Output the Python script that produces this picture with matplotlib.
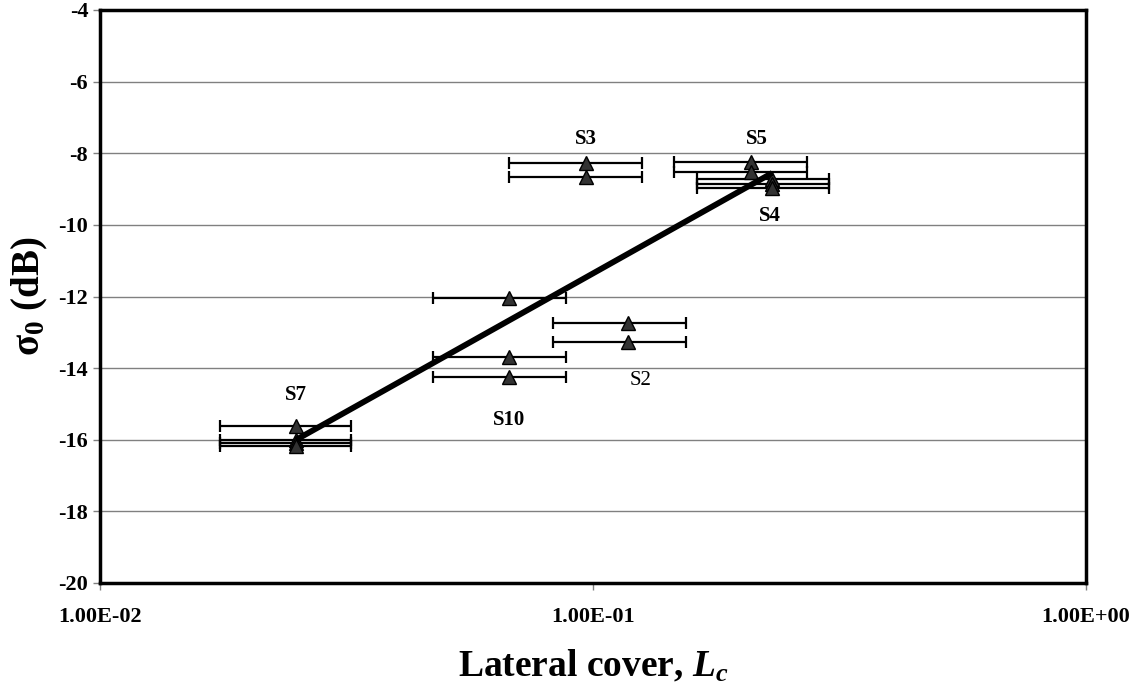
import matplotlib.pyplot as plt
import numpy as np

plt.rcParams['font.family'] = ['Liberation Serif', 'DejaVu Serif']
plt.rcParams['mathtext.fontset'] = 'custom'
plt.rcParams['mathtext.rm'] = 'Liberation Serif'
plt.rcParams['mathtext.it'] = 'Liberation Serif:italic:bold'
plt.rcParams['mathtext.bf'] = 'Liberation Serif:bold'
plt.rcParams['axes.unicode_minus'] = False

# measured points: lateral cover, error bar limits, backscatter (dB)
lc = [0.025, 0.025, 0.025, 0.025,
      0.0676, 0.0676, 0.0676,
      0.118, 0.118,
      0.0967, 0.0967,
      0.209, 0.209,
      0.231, 0.231, 0.231]
lc_low = [0.0175, 0.0175, 0.0175, 0.0175,
          0.0474, 0.0474, 0.0474,
          0.083, 0.083,
          0.0676, 0.0676,
          0.146, 0.146,
          0.1625, 0.1625, 0.1625]
lc_high = [0.0323, 0.0323, 0.0323, 0.0323,
           0.0881, 0.0881, 0.0881,
           0.1544, 0.1544,
           0.1257, 0.1257,
           0.2717, 0.2717,
           0.301, 0.301, 0.301]
sigma0 = [-15.62, -16.0, -16.1, -16.18,
          -12.04, -13.69, -14.25,
          -12.74, -13.27,
          -8.27, -8.66,
          -8.25, -8.53,
          -8.72, -8.86, -8.97]

# regression line end points
fit_lc = [0.025, 0.231]
fit_sigma0 = [-16.0, -8.55]

site_names = ['S3', 'S5', 'S4', 'S7', 'S10', 'S2']
site_lc = [0.0967, 0.215, 0.228, 0.025, 0.0676, 0.125]
site_sigma0 = [-7.6, -7.6, -9.75, -14.75, -15.45, -14.35]
site_bold = [True, True, True, True, True, False]

fig = plt.figure(figsize=(11.36, 6.88), dpi=100)
ax = fig.add_axes([100 / 1136, 1 - 583 / 688, 986 / 1136, 573 / 688])

lc_arr = np.array(lc)
xerr = [lc_arr - np.array(lc_low), np.array(lc_high) - lc_arr]
ax.errorbar(lc, sigma0, xerr=xerr, fmt='^', color='black', ecolor='black',
            elinewidth=1.6, capsize=4, capthick=1.6,
            markersize=10, markerfacecolor='#333333', markeredgecolor='black',
            zorder=3)
ax.plot(fit_lc, fit_sigma0, color='black', linewidth=4.2, zorder=4,
        solid_capstyle='butt')

for name, x, y, b in zip(site_names, site_lc, site_sigma0, site_bold):
    ax.text(x, y, name, ha='center', va='center', fontsize=15,
            fontweight='bold' if b else 'normal')

ax.set_xscale('log')
ax.set_xlim(0.01, 1)
ax.set_ylim(-20, -4)
ax.set_yticks(np.arange(-20, -3, 2))
ax.set_xticks([0.01, 0.1, 1])
ax.set_xticklabels(['1.00E-02', '1.00E-01', '1.00E+00'])
ax.xaxis.set_minor_locator(plt.NullLocator())
ax.yaxis.grid(True, color='#808080', linewidth=1)
ax.set_axisbelow(True)

for s in ax.spines.values():
    s.set_linewidth(2.5)
ax.tick_params(axis='both', direction='out', length=5, width=1,
               color='#808080', labelsize=16)
ax.tick_params(axis='x', pad=12)
for lab in ax.get_xticklabels() + ax.get_yticklabels():
    lab.set_fontweight('bold')

ax.set_xlabel(r'Lateral cover, $\mathit{L}_{\mathit{c}}$', fontsize=27,
              fontweight='bold', labelpad=16)
ax.set_ylabel(r'$\mathbf{\sigma_0}$ (dB)', fontsize=28, fontweight='bold',
              labelpad=6)

fig.savefig('out.png', dpi=100)
